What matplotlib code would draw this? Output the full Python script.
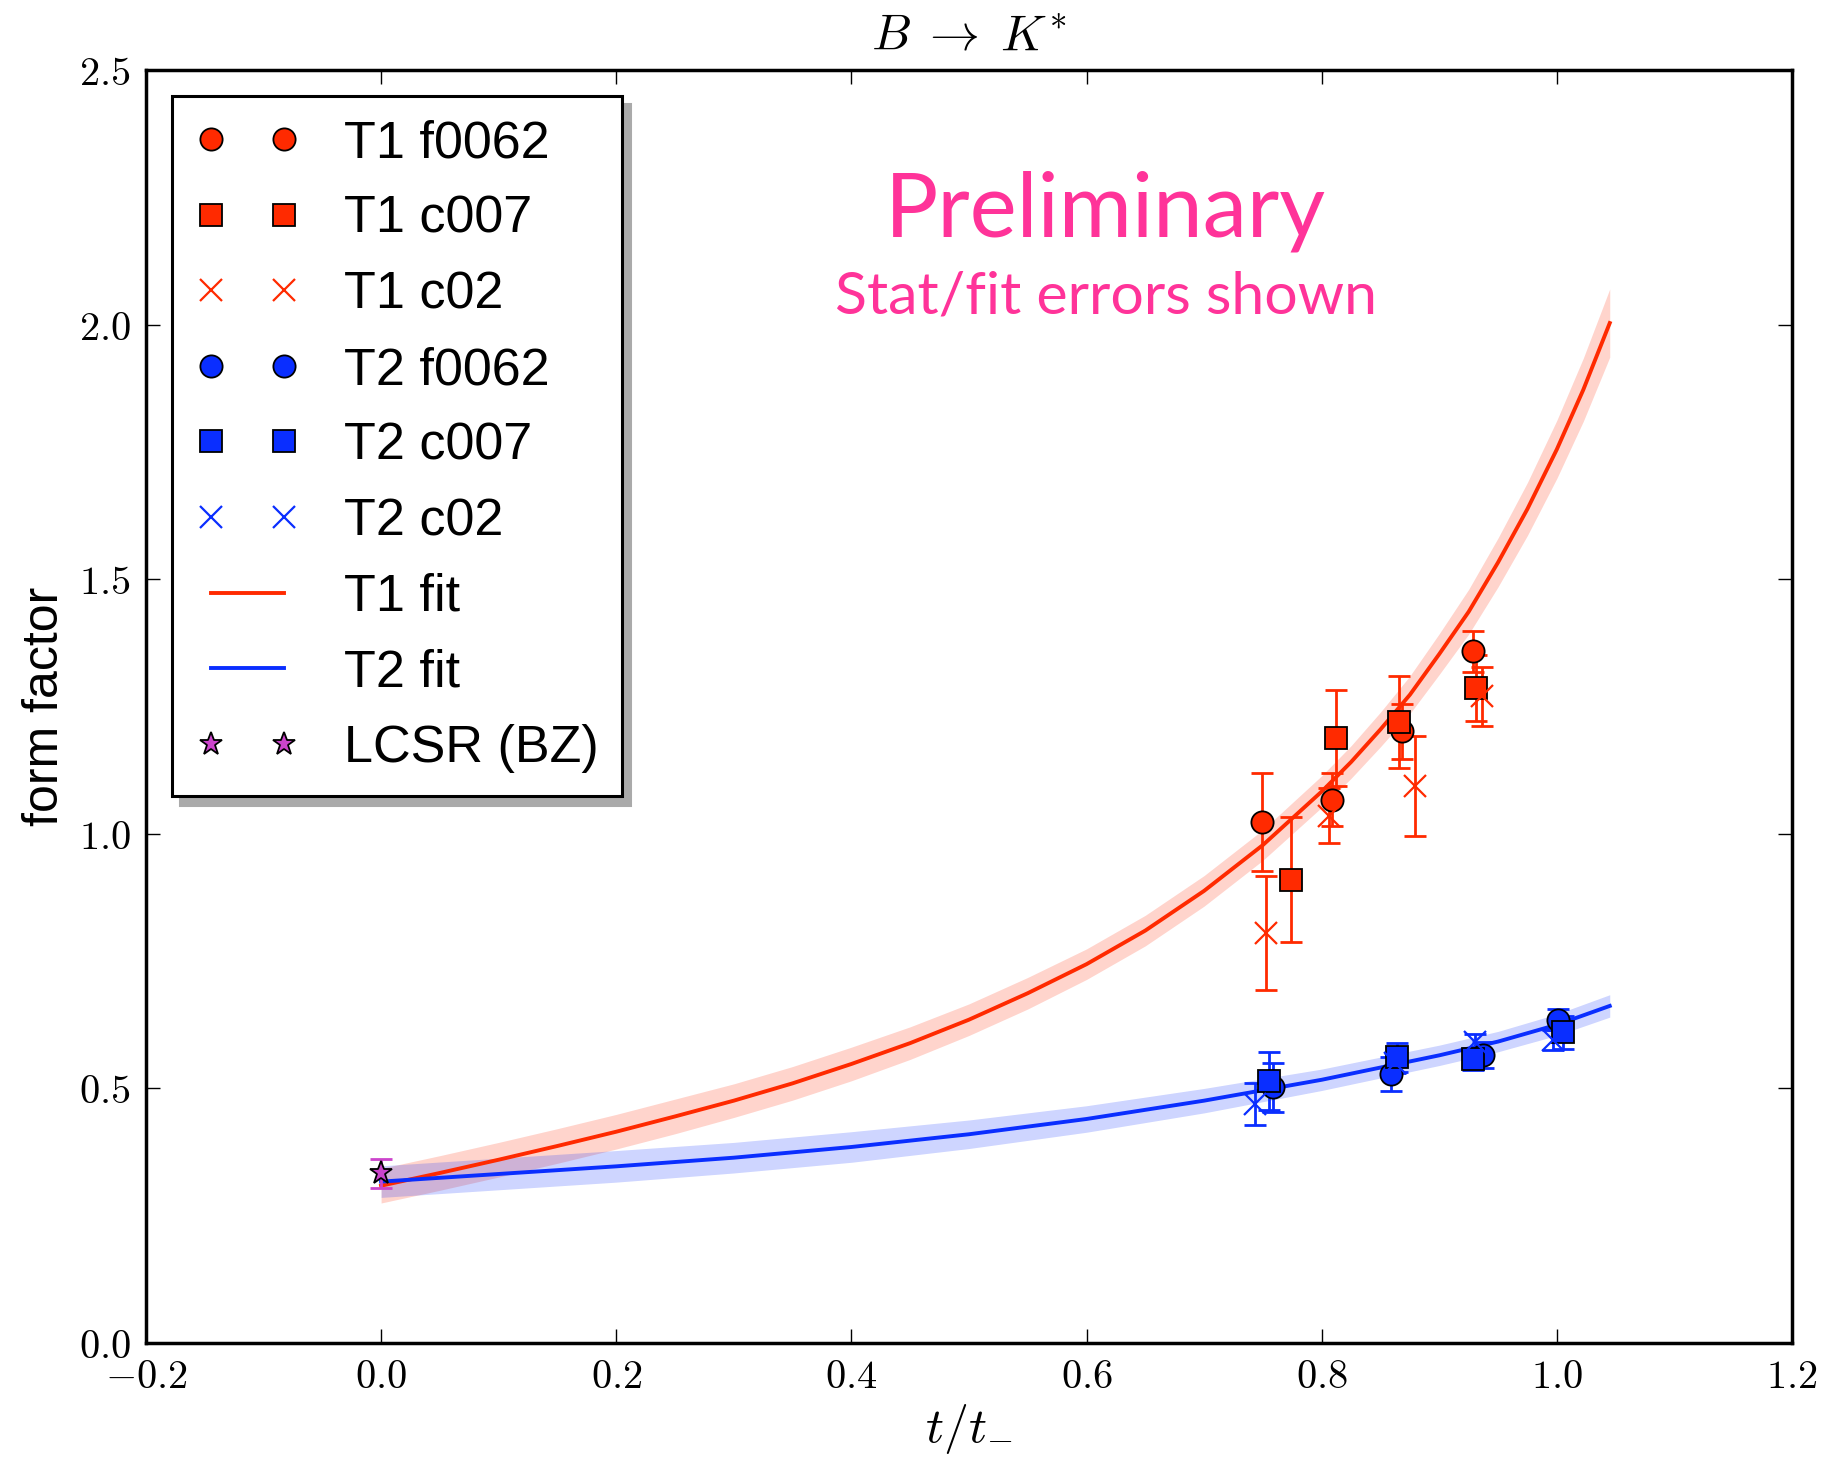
"""B -> K* form factors: lattice points, fits and LCSR value"""

from matplotlib import pyplot as plt
from matplotlib.ticker import FuncFormatter, MultipleLocator

plt.rcParams['mathtext.fontset'] = 'cm'
plt.rcParams['font.family'] = ['Liberation Sans', 'DejaVu Sans']

RED = '#ff2a00'
BLUE = '#0a2eff'
STAR = '#cc44cc'

# T1 data (x = t/t_-, y = form factor, err = stat/fit error)
t1_f0062_x = [0.749, 0.809, 0.868, 0.929]
t1_f0062_y = [1.023, 1.067, 1.201, 1.358]
t1_f0062_err = [0.097, 0.052, 0.054, 0.041]

t1_c007_x = [0.774, 0.812, 0.866, 0.931]
t1_c007_y = [0.910, 1.188, 1.219, 1.287]
t1_c007_err = [0.123, 0.094, 0.090, 0.065]

t1_c02_x = [0.753, 0.806, 0.879, 0.936]
t1_c02_y = [0.805, 1.035, 1.094, 1.270]
t1_c02_err = [0.112, 0.054, 0.098, 0.058]

# T2 data
t2_f0062_x = [0.759, 0.859, 0.937, 1.001]
t2_f0062_y = [0.502, 0.528, 0.566, 0.635]
t2_f0062_err = [0.048, 0.034, 0.025, 0.020]

t2_c007_x = [0.755, 0.864, 0.929, 1.005]
t2_c007_y = [0.515, 0.561, 0.557, 0.610]
t2_c007_err = [0.057, 0.028, 0.020, 0.033]

t2_c02_x = [0.743, 0.862, 0.930, 0.997]
t2_c02_y = [0.469, 0.550, 0.592, 0.595]
t2_c02_err = [0.041, 0.020, 0.015, 0.020]

# LCSR (BZ) at t = 0
lcsr_x = [0.0]
lcsr_y = [0.333]
lcsr_err = [0.028]

# fit curves and their error bands (half widths)
t1_fit_x = [0.0, 0.05, 0.1, 0.15, 0.2, 0.25, 0.3, 0.35, 0.4, 0.45, 0.5, 0.55, 0.6, 0.65,
            0.7, 0.75, 0.8, 0.825, 0.85, 0.875, 0.9, 0.925, 0.95, 0.975, 1.0, 1.0225, 1.045]
t1_fit_y = [0.309, 0.334, 0.360, 0.387, 0.415, 0.445, 0.476, 0.510, 0.548, 0.589, 0.635,
            0.687, 0.744, 0.810, 0.888, 0.978, 1.083, 1.141, 1.205, 1.273, 1.353, 1.436,
            1.533, 1.638, 1.755, 1.872, 2.003]
t1_fit_w = [0.034, 0.034, 0.034, 0.034, 0.034, 0.034, 0.033, 0.033, 0.033, 0.032, 0.031,
            0.031, 0.030, 0.030, 0.030, 0.030, 0.031, 0.032, 0.034, 0.037, 0.040, 0.044,
            0.048, 0.052, 0.057, 0.062, 0.067]

t2_fit_x = [0.0, 0.1, 0.2, 0.3, 0.4, 0.5, 0.6, 0.7, 0.8, 0.9, 0.95, 1.0, 1.045]
t2_fit_y = [0.317, 0.332, 0.347, 0.364, 0.385, 0.410, 0.440, 0.476, 0.517, 0.565, 0.592, 0.625, 0.662]
t2_fit_w = [0.031, 0.031, 0.031, 0.030, 0.030, 0.028, 0.026, 0.024, 0.021, 0.020, 0.020, 0.021, 0.022]

fig = plt.figure(figsize=(18.31, 14.6), dpi=100)
ax = fig.add_axes([0.0797, 0.0801, 0.899, 0.872])

# error bands
ax.fill_between(t1_fit_x, [y - w for y, w in zip(t1_fit_y, t1_fit_w)],
                [y + w for y, w in zip(t1_fit_y, t1_fit_w)], color=RED, alpha=0.2, lw=0)
ax.fill_between(t2_fit_x, [y - w for y, w in zip(t2_fit_y, t2_fit_w)],
                [y + w for y, w in zip(t2_fit_y, t2_fit_w)], color=BLUE, alpha=0.2, lw=0)

# error bars (no labels, markers drawn separately for the legend)
eb = dict(fmt='none', capsize=8, elinewidth=2.0, capthick=2.0, zorder=3)
for xs, ys, es, c in [(t1_f0062_x, t1_f0062_y, t1_f0062_err, RED),
                      (t1_c007_x, t1_c007_y, t1_c007_err, RED),
                      (t1_c02_x, t1_c02_y, t1_c02_err, RED),
                      (t2_f0062_x, t2_f0062_y, t2_f0062_err, BLUE),
                      (t2_c007_x, t2_c007_y, t2_c007_err, BLUE),
                      (t2_c02_x, t2_c02_y, t2_c02_err, BLUE),
                      (lcsr_x, lcsr_y, lcsr_err, STAR)]:
    ax.errorbar(xs, ys, yerr=es, ecolor=c, **eb)

mk = dict(ls='none', mec='black', mew=1.3, ms=16, zorder=4)
ax.plot(t1_f0062_x, t1_f0062_y, 'o', color=RED, label='T1 f0062', **mk)
ax.plot(t1_c007_x, t1_c007_y, 's', color=RED, label='T1 c007', **mk)
ax.plot(t1_c02_x, t1_c02_y, 'x', color=RED, ms=16, mew=1.6, ls='none', label='T1 c02', zorder=4)
ax.plot(t2_f0062_x, t2_f0062_y, 'o', color=BLUE, label='T2 f0062', **mk)
ax.plot(t2_c007_x, t2_c007_y, 's', color=BLUE, label='T2 c007', **mk)
ax.plot(t2_c02_x, t2_c02_y, 'x', color=BLUE, ms=16, mew=1.6, ls='none', label='T2 c02', zorder=4)
ax.plot(t1_fit_x, t1_fit_y, color=RED, lw=2.8, label='T1 fit', zorder=2)
ax.plot(t2_fit_x, t2_fit_y, color=BLUE, lw=2.8, label='T2 fit', zorder=2)
ax.plot(lcsr_x, lcsr_y, '*', color=STAR, mec='black', mew=1.3, ms=17, ls='none',
        label='LCSR (BZ)', zorder=5)

# axes
ax.set_xlim(-0.2, 1.2)
ax.set_ylim(0.0, 2.5)
ax.xaxis.set_major_locator(MultipleLocator(0.2))
ax.yaxis.set_major_locator(MultipleLocator(0.5))
fmt = FuncFormatter(lambda v, p: r'$%.1f$' % v)
ax.xaxis.set_major_formatter(fmt)
ax.yaxis.set_major_formatter(fmt)
ax.tick_params(direction='in', top=True, right=True, length=10, width=1, labelsize=29, pad=11)
for s in ax.spines.values():
    s.set_linewidth(2.5)

ax.set_title(r'$B \;\rightarrow\; K^{*}$', fontsize=36, pad=14)
ax.set_xlabel(r'$t/t_{-}$', fontsize=36, labelpad=4)
ax.set_ylabel('form factor', fontsize=36, labelpad=8)

# watermark text
ax.text(0.583, 0.869, 'Preliminary', transform=ax.transAxes, ha='center', va='baseline',
        fontsize=64, color='#ff3399', family=['Lato', 'DejaVu Sans'])
ax.text(0.583, 0.809, 'Stat/fit errors shown', transform=ax.transAxes, ha='center',
        va='baseline', fontsize=42.5, color='#ff3399', family=['Lato', 'DejaVu Sans'])

leg = ax.legend(loc='upper left', numpoints=2, fontsize=37.5, fancybox=False, framealpha=1,
                edgecolor='black', handlelength=2.0, handletextpad=0.85, labelspacing=0.51,
                borderpad=0.45, borderaxespad=0.5,
                shadow=dict(ox=6, oy=-6, facecolor='#aaaaaa', edgecolor='#aaaaaa', alpha=1))
leg.get_frame().set_linewidth(2.2)

fig.savefig('out.png', dpi=100)
